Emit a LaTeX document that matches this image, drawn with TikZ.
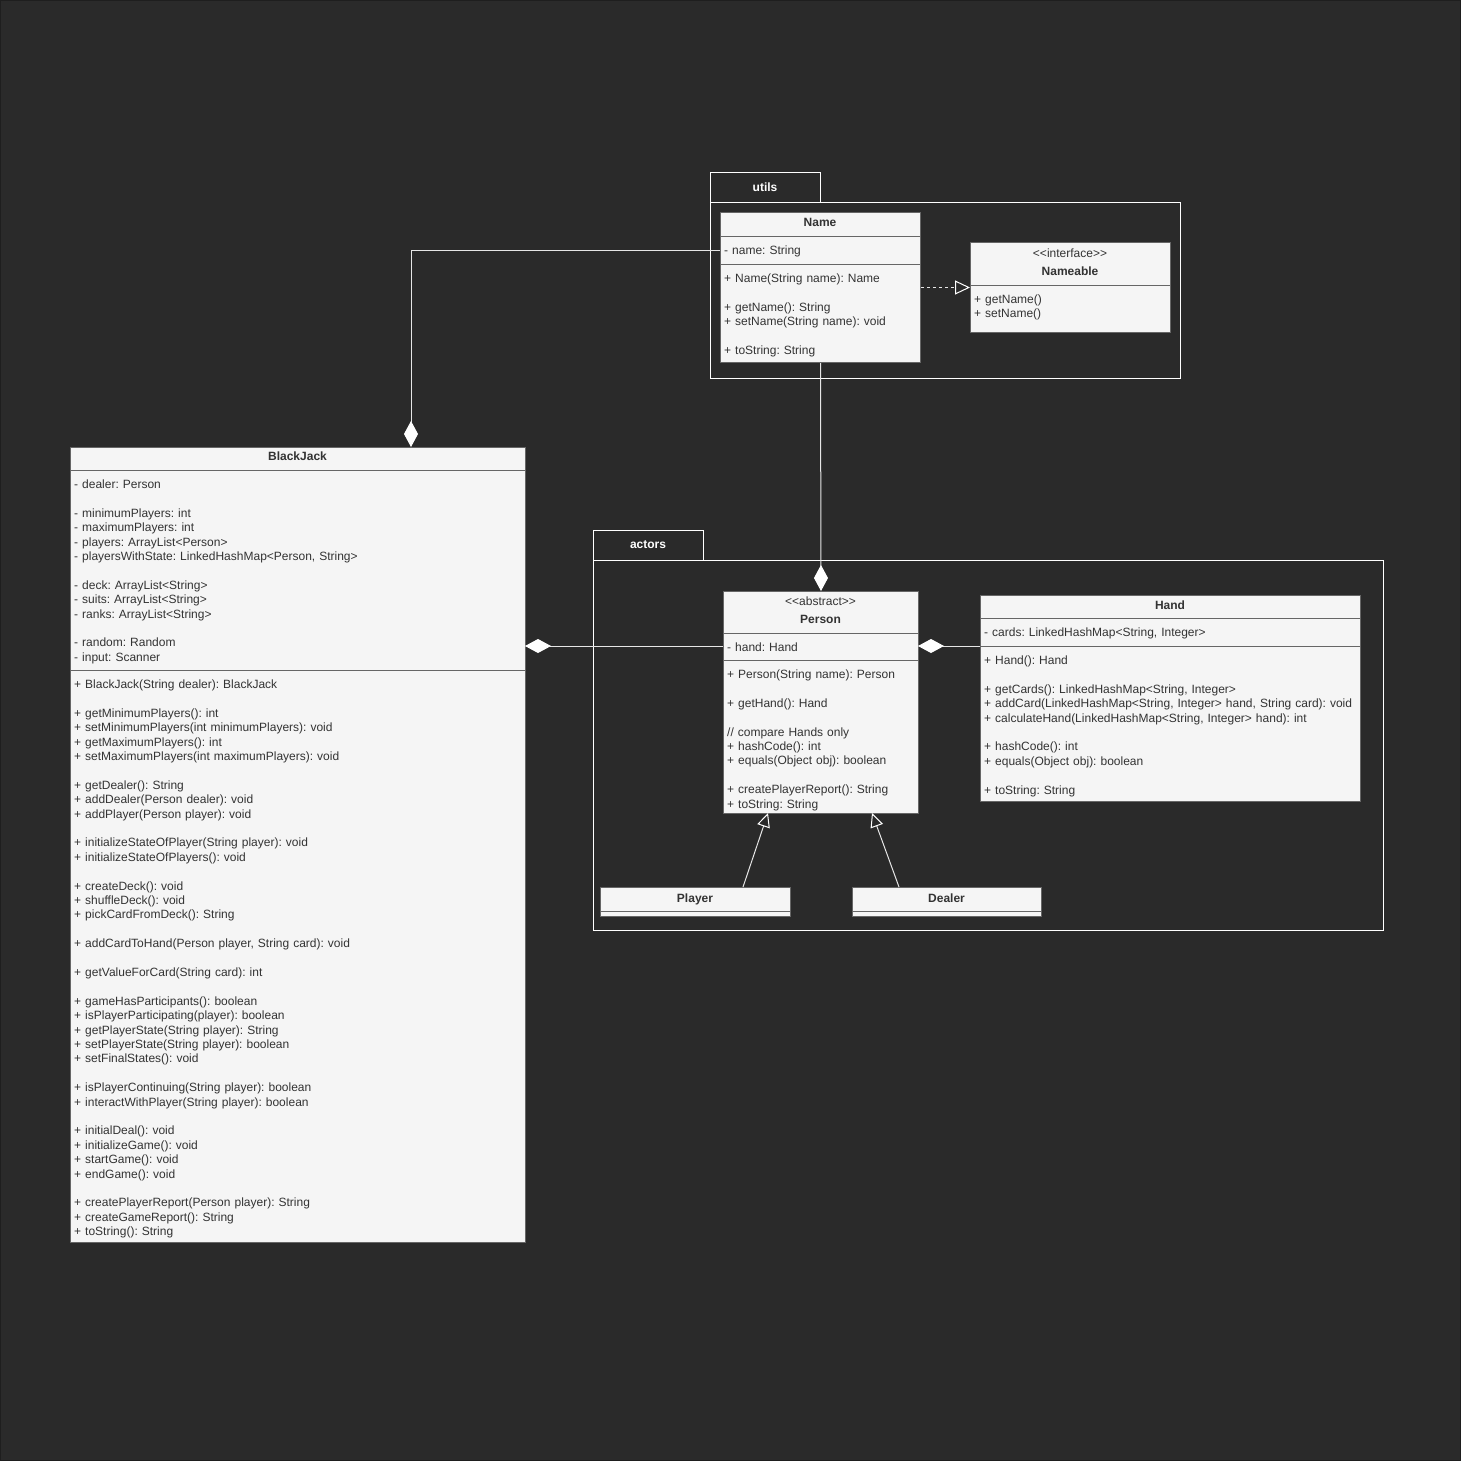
\documentclass[tikz,border=0pt]{standalone}
\usepackage{fontspec}
\setmainfont{Liberation Sans}
\usetikzlibrary{arrows.meta}
\definecolor{bg}{HTML}{2A2A2A}
\definecolor{edge}{HTML}{1E1E1E}
\definecolor{boxfill}{HTML}{F5F5F5}
\definecolor{boxline}{HTML}{666666}
\definecolor{txt}{HTML}{333333}
\definecolor{conn}{HTML}{E6E6E6}
\newcommand{\bl}{\mbox{}}
\newcommand{\stl}{<\kern0pt<}
\newcommand{\str}{>\kern0pt>}
\frenchspacing
\begin{document}
\frenchspacing
\begin{tikzpicture}[x=1pt,y=-1pt,
  classbox/.style={draw=boxline, fill=boxfill, line width=1pt, inner sep=0pt, anchor=north west},
  sepline/.style={draw=boxline, line width=1pt},
  pkg/.style={draw=white, line width=1pt},
  pkglabel/.style={text=white, font=\fontsize{12}{14.4}\selectfont\bfseries, inner sep=0pt, text height=8.6pt, text depth=0pt, anchor=center},
  head/.style={text=txt, font=\fontsize{12}{14.4}\selectfont\bfseries, inner sep=0pt, text height=8.6pt, text depth=0pt, anchor=center},
  stereo/.style={text=txt, font=\fontsize{12}{14.4}\selectfont, inner sep=0pt, text height=8.6pt, text depth=0pt, anchor=center},
  block/.style={text=txt, font=\fontsize{12}{14.4}\selectfont\frenchspacing, inner sep=0pt, anchor=north west, align=left, text width=#1},
  block/.default=400pt,
  comp/.style={draw=conn, line width=1pt, {Diamond[length=26pt,width=14pt,fill=white,color=white]}-},
  gen/.style={draw=conn, line width=1pt, -{Triangle[open,length=14pt,width=13pt,color=white]}},
  real/.style={draw=conn, line width=1pt, dash pattern=on 3pt off 3pt, -{Triangle[open,length=15pt,width=14pt,color=white]}}
]
% background
\fill[bg] (0,0) rectangle (1461,1461);
\draw[edge, line width=1pt] (0.5,0.5) rectangle (1460.5,1460.5);
\useasboundingbox (0,0) rectangle (1461,1461);

% ---------- packages ----------
\draw[pkg] (710,172) rectangle (820,202);
\draw[pkg] (710,202) rectangle (1180,378);
\node[pkglabel] (utilslabel) at (765,187) {utils};

\draw[pkg] (593,530) rectangle (703,560);
\draw[pkg] (593,560) rectangle (1383,930);
\node[pkglabel] (actorslabel) at (648,544) {actors};

% ---------- Name ----------
\node[classbox, minimum width=200pt, minimum height=150pt] (name) at (720,212) {};
\node[head] (namehead) at (820,222.5) {Name};
\draw[sepline] (720,236) -- (920,236);
\node[block=190pt] (nameattr) at (724,244.2) {\strut- name: String};
\draw[sepline] (720,264) -- (920,264);
\node[block=190pt] (nameops) at (724,272.2) {\strut+ Name(String name): Name\\ \bl\\ + getName(): String\\ + setName(String name): void\\ \bl\\ + toString: String};

% ---------- Nameable ----------
\node[classbox, minimum width=200pt, minimum height=90pt] (nameable) at (970,242) {};
\node[stereo] (nameablest) at (1070,253) {\stl interface\str};
\node[head] (nameablehead) at (1070,271) {Nameable};
\draw[sepline] (970,285) -- (1170,285);
\node[block=190pt] (nameableops) at (974,293.2) {\strut+ getName()\\ + setName()};

% ---------- BlackJack ----------
\node[classbox, minimum width=455pt, minimum height=795pt] (bj) at (70,447) {};
\node[head] (bjhead) at (297.5,456.5) {BlackJack};
\draw[sepline] (70,470) -- (525,470);
\node[block=440pt] (bjattr) at (74,478.2) {\strut- dealer: Person\\ \bl\\ - minimumPlayers: int\\ - maximumPlayers: int\\ - players: ArrayList<Person>\\ - playersWithState: LinkedHashMap<Person, String>\\ \bl\\ - deck: ArrayList<String>\\ - suits: ArrayList<String>\\ - ranks: ArrayList<String>\\ \bl\\ - random: Random\\ - input: Scanner};
\draw[sepline] (70,670) -- (525,670);
\node[block=440pt] (bjops) at (74,678.2) {\strut+ BlackJack(String dealer): BlackJack\\ \bl\\
+ getMinimumPlayers(): int\\ + setMinimumPlayers(int minimumPlayers): void\\ + getMaximumPlayers(): int\\ + setMaximumPlayers(int maximumPlayers): void\\ \bl\\
+ getDealer(): String\\ + addDealer(Person dealer): void\\ + addPlayer(Person player): void\\ \bl\\
+ initializeStateOfPlayer(String player): void\\ + initializeStateOfPlayers(): void\\ \bl\\
+ createDeck(): void\\ + shuffleDeck(): void\\ + pickCardFromDeck(): String\\ \bl\\
+ addCardToHand(Person player, String card): void\\ \bl\\
+ getValueForCard(String card): int\\ \bl\\
+ gameHasParticipants(): boolean\\ + isPlayerParticipating(player): boolean\\ + getPlayerState(String player): String\\ + setPlayerState(String player): boolean\\ + setFinalStates(): void\\ \bl\\
+ isPlayerContinuing(String player): boolean\\ + interactWithPlayer(String player): boolean\\ \bl\\
+ initialDeal(): void\\ + initializeGame(): void\\ + startGame(): void\\ + endGame(): void\\ \bl\\
+ createPlayerReport(Person player): String\\ + createGameReport(): String\\ + toString(): String};

% ---------- Person ----------
\node[classbox, minimum width=195pt, minimum height=222pt] (person) at (723,591) {};
\node[stereo] (personst) at (820.5,601) {\stl abstract\str};
\node[head] (personhead) at (820.5,619) {Person};
\draw[sepline] (723,633) -- (918,633);
\node[block=185pt] (personattr) at (727,641.2) {\strut- hand: Hand};
\draw[sepline] (723,660) -- (918,660);
\node[block=185pt] (personops) at (727,668.2) {\strut+ Person(String name): Person\\ \bl\\ + getHand(): Hand\\ \bl\\ // compare Hands only\\ + hashCode(): int\\ + equals(Object obj): boolean\\ \bl\\ + createPlayerReport(): String\\ + toString: String};

% ---------- Hand ----------
\node[classbox, minimum width=380pt, minimum height=206pt] (hand) at (980,595) {};
\node[head] (handhead) at (1170,605) {Hand};
\draw[sepline] (980,618) -- (1360,618);
\node[block=370pt] (handattr) at (984,626.2) {\strut- cards: LinkedHashMap<String, Integer>};
\draw[sepline] (980,646) -- (1360,646);
\node[block=370pt] (handops) at (984,654.2) {\strut+ Hand(): Hand\\ \bl\\ + getCards(): LinkedHashMap<String, Integer>\\ + addCard(LinkedHashMap<String, Integer> hand, String card): void\\ + calculateHand(LinkedHashMap<String, Integer> hand): int\\ \bl\\ + hashCode(): int\\ + equals(Object obj): boolean\\ \bl\\ + toString: String};

% ---------- Player / Dealer ----------
\node[classbox, minimum width=190pt, minimum height=29pt] (player) at (600,887) {};
\node[head] (playerhead) at (695,898) {Player};
\draw[sepline] (600,911) -- (790,911);

\node[classbox, minimum width=189pt, minimum height=29pt] (dealer) at (852,887) {};
\node[head] (dealerhead) at (946.5,898) {Dealer};
\draw[sepline] (852,911) -- (1041,911);

% ---------- connector end points ----------
\coordinate (bjtop) at (411,447);
\coordinate (nameleft) at (720,250);
\coordinate (bjright) at (525,646);
\coordinate (personleft) at (723,646);
\coordinate (personright) at (918,646);
\coordinate (handleft) at (980,646);
\coordinate (playertop) at (743,887);
\coordinate (dealertop) at (899,887);
\coordinate (personbotl) at (768,813);
\coordinate (personbotr) at (872,813);

% ---------- connectors ----------
\draw[comp] (bjtop) |- (nameleft);
\draw[comp] (person.north) -- (name.south);
\draw[comp] (bjright) -- (personleft);
\draw[comp] (personright) -- (handleft);
\draw[real] (name.east) -- (nameable.west);
\draw[gen] (playertop) -- (personbotl);
\draw[gen] (dealertop) -- (personbotr);
\end{tikzpicture}
\end{document}
